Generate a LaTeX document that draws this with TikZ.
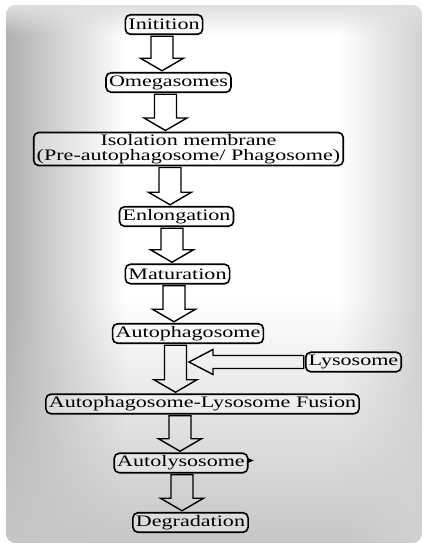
\documentclass[tikz,border=0pt]{standalone}
\usepackage{fontspec}
\setmainfont{Liberation Serif}[FakeStretch=1.38]
\usetikzlibrary{calc, fadings}
\pgfdeclarelayer{background}
\pgfsetlayers{background,main}

\begin{document}
\begin{tikzpicture}[x=1pt, y=-1pt,
  stage/.style={draw=black, line width=1.6pt, rounded corners=5pt, fill=white, fill opacity=0.35, text opacity=1,
    inner xsep=3pt, inner ysep=0pt, minimum height=19.5pt, outer sep=2pt, font=\fontsize{16}{14.5}\selectfont},
  fatdown/.style={draw=black, line width=1.4pt, line join=miter,
    to path={let \p1=(\tikztostart), \p2=(\tikztotarget) in
      (\x1-11pt,\y1) -- (\x1+11pt,\y1) -- (\x1+11pt,\y2+12.5pt) -- (\x1+21.5pt,\y2+12.5pt)
      -- (\x1,\y2) -- (\x1-21.5pt,\y2+12.5pt) -- (\x1-11pt,\y2+12.5pt) -- cycle}},
  fatleft/.style={draw=black, line width=1.4pt, line join=miter,
    to path={let \p1=(\tikztostart), \p2=(\tikztotarget) in
      (\x1,\y1-6.5pt) -- (\x2+24pt,\y1-6.5pt) -- (\x2+24pt,\y1-12.5pt) -- (\x2,\y1)
      -- (\x2+24pt,\y1+12.5pt) -- (\x2+24pt,\y1+6.5pt) -- (\x1,\y1+6.5pt) -- cycle}}]

\useasboundingbox (0,0) rectangle (429,550);

%panel with darker edges
\begin{scope}
\clip[rounded corners=10pt] (6,5) rectangle (422,543);
\fill[white] (6,5) rectangle (422,543);
\fill[gray!62, path fading=east] (6,5) rectangle (125,543);
\fill[gray!45, path fading=north] (6,300) rectangle (422,543);
\fill[gray!35, path fading=west] (340,5) rectangle (422,543);
\fill[gray!25, path fading=south] (6,5) rectangle (422,35);
\end{scope}

%stages
\node[stage] (init) at (164,24.5) {Initition};
\node[stage] (omega) at (168.5,82.5) {Omegasomes};
\node[stage, align=center, inner ysep=2pt] (isol) at (188.5,149) {Isolation membrane\\(Pre-autophagosome/ Phagosome)};
\node[stage] (elong) at (176.5,216.5) {Enlongation};
\node[stage] (matur) at (177.5,274) {Maturation};
\node[stage] (autoph) at (188,333.5) {Autophagosome};
\node[stage] (lyso) at (353.5,362) {Lysosome};
\node[stage] (fusion) at (202.5,404) {Autophagosome-Lysosome Fusion};
\node[stage] (autolys) at (181,463) {Autolysosome};
\node[stage] (degrad) at (190.5,522.5) {Degradation};

%shadows
\begin{pgfonlayer}{background}
\fill[black, rounded corners=1.5pt] ($(isol.south west)+(4,-3)$) rectangle (173,169.5);
\begin{scope}
\clip (240,315) rectangle (280,350);
\fill[black, rounded corners=5pt] ($(autoph.north west)+(7,4)$) rectangle ($(autoph.south east)+(3,0)$);
\end{scope}
\end{pgfonlayer}
\fill[black] ($(autolys.east)+(-2,-5)$) -- ++(6,2.5) -- ++(-6,2.5) -- cycle;

%arrows
\draw[fatdown] (162,0 |- init.south) to (162,0 |- omega.north);
\draw[fatdown] (165.5,0 |- omega.south) to (165.5,0 |- isol.north);
\draw[fatdown] (170,0 |- isol.south) to (170,0 |- elong.north);
\draw[fatdown] (172,0 |- elong.south) to (172,0 |- matur.north);
\draw[fatdown] (174,0 |- matur.south) to (174,0 |- autoph.north);
\draw[fatdown] (175.5,0 |- autoph.south) to (175.5,0 |- fusion.north);
\coordinate (join) at (189,363);
\draw[fatleft] (lyso.west) to (join);
\draw[fatdown] (180,0 |- fusion.south) to (180,0 |- autolys.north);
\draw[fatdown] (182,0 |- autolys.south) to (182,0 |- degrad.north);

\end{tikzpicture}
\end{document}
